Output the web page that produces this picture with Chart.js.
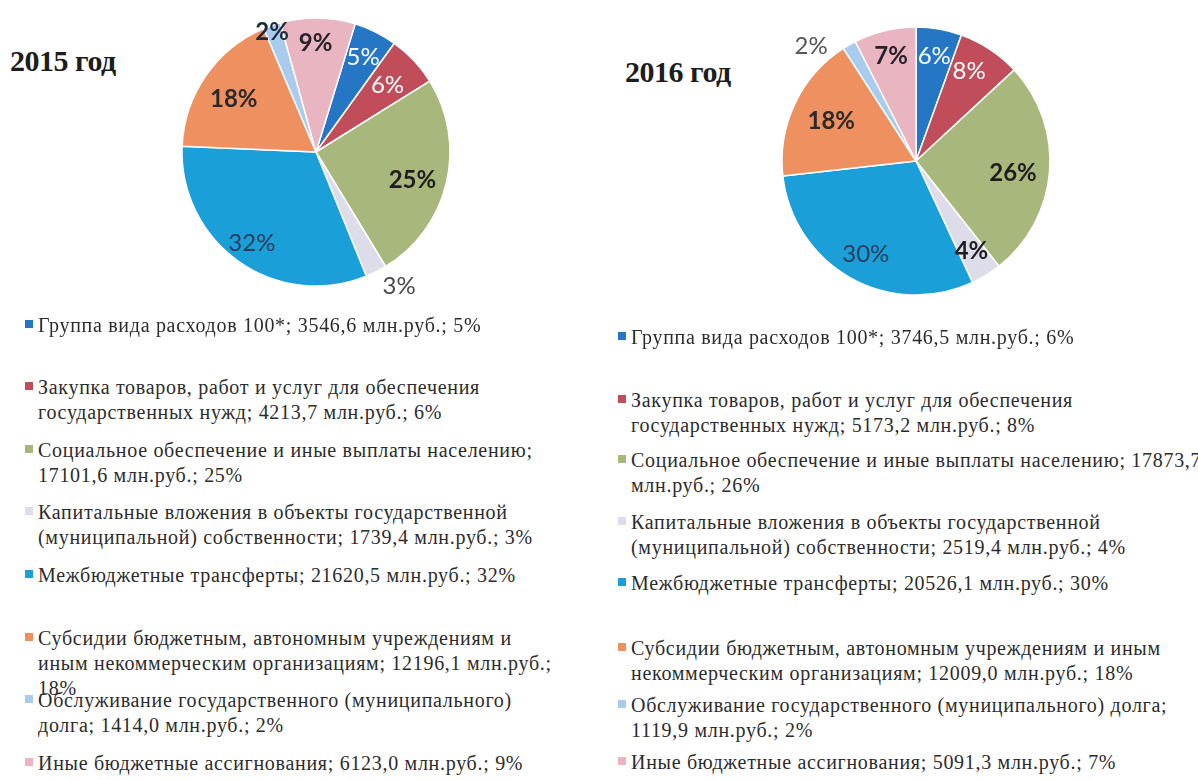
<!DOCTYPE html>
<html>
<head>
<meta charset="utf-8">
<script src="https://cdn.jsdelivr.net/npm/chart.js@4"></script>
<style>
  html, body { margin:0; padding:0; background:#fff; width:1198px; height:780px; overflow:hidden; }
  body { position:relative; font-family:"Liberation Serif","DejaVu Serif",serif; }
  .title { position:absolute; font-family:"Liberation Serif",serif; font-weight:bold; font-size:30px; line-height:30px; color:#1d1d1d; white-space:nowrap; letter-spacing:-0.5px; }
  .pie { position:absolute; width:340px; height:340px; }
  .item { position:absolute; font-family:"Liberation Serif","Times New Roman",serif; font-size:20px; line-height:25px; letter-spacing:0.7px; color:#2c2c2c; }
  .item .line { white-space:nowrap; height:25px; }
  .sq { position:absolute; width:8px; height:8px; }
</style>
</head>
<body>
<div class="title" style="left:10px;top:46px;">2015 год</div>
<div class="title" style="left:625px;top:57px;">2016 год</div>
<div class="pie" style="left:146px;top:-18px;"><canvas id="c2015" width="340" height="340"></canvas></div>
<div class="pie" style="left:746px;top:-9px;"><canvas id="c2016" width="340" height="340"></canvas></div>
<div id="leg2015"></div>
<div id="leg2016"></div>
<script>
// ---- data ----
const categories = [
  "Группа вида расходов 100*",
  "Закупка товаров, работ и услуг для обеспечения государственных нужд",
  "Социальное обеспечение и иные выплаты населению",
  "Капитальные вложения в объекты государственной (муниципальной) собственности",
  "Межбюджетные трансферты",
  "Субсидии бюджетным, автономным учреждениям и иным некоммерческим организациям",
  "Обслуживание государственного (муниципального) долга",
  "Иные бюджетные ассигнования"
];
const values2015 = [3546.6, 4213.7, 17101.6, 1739.4, 21620.5, 12196.1, 1414.0, 6123.0];
const values2016 = [3746.5, 5173.2, 17873.7, 2519.4, 20526.1, 12009.0, 1119.9, 5091.3];
const pct2015 = [5, 6, 25, 3, 32, 18, 2, 9];
const pct2016 = [6, 8, 26, 4, 30, 18, 2, 7];
const unit = "млн.руб.";

// ---- style ----
const colors = ['#2577c6', '#c24d5a', '#a8b87c', '#dcdde8', '#1b9fd8', '#ee9060', '#a9cbee', '#e9b5c0'];

const style2015 = {
  rotation: 17,
  labelRadius: [0.79, 0.73, 0.75, 1.18, 0.83, 0.73, 0.95, 0.81],
  labelShift:  [0, 0, 3, -5, 0, -2, -1, -1],
  labelColor:  ['#ffffff', '#ffffff', '#1e1e1e', '#4a4a4a', '#2a3d5c', '#2a2a2a', '#1f2a3a', '#2a2228'],
  labelWeight: ['400', '400', '700', '400', '400', '700', '700', '700'],
  legendY:     [325, 387, 450, 512, 575, 638, 700, 763],
  legendBreaks:[[], [7], [6], [5], [], [5, 10], [3], []],
  legendX: 25
};
const style2016 = {
  rotation: 0,
  labelRadius: [0.79, 0.78, 0.73, 0.79, 0.79, 0.70, 1.16, 0.80],
  labelShift:  [0, -3, 3, 0, -1, 0, -12.5, 0],
  labelColor:  ['#ffffff', '#ffffff', '#1e1e1e', '#1e1e1e', '#2a3d5c', '#2a2a2a', '#555555', '#2a2228'],
  labelWeight: ['400', '400', '700', '700', '400', '700', '400', '700'],
  legendY:     [337, 400, 460, 522, 583, 648, 705, 762],
  legendBreaks:[[], [7], [7], [5], [], [6], [4], []],
  legendX: 618
};

const pctLabels = {
  id: 'pctLabels',
  afterDatasetsDraw(chart, args, o) {
    const ctx = chart.ctx;
    const meta = chart.getDatasetMeta(0);
    meta.data.forEach((arc, i) => {
      const p = arc.getProps(['x', 'y', 'startAngle', 'endAngle', 'outerRadius'], true);
      const mid = (p.startAngle + p.endAngle) / 2 + o.shift[i] * Math.PI / 180;
      const r = p.outerRadius * o.radius[i];
      ctx.save();
      ctx.font = o.weight[i] + ' 24px Lato, "Open Sans", sans-serif';
      ctx.fillStyle = o.color[i];
      ctx.textAlign = 'center';
      ctx.textBaseline = 'middle';
      ctx.fillText(o.labels[i] + '%', p.x + Math.cos(mid) * r, p.y + Math.sin(mid) * r);
      ctx.restore();
    });
  }
};

function makePie(id, values, pct, st) {
  new Chart(document.getElementById(id), {
    type: 'pie',
    data: { labels: categories, datasets: [{ data: values, backgroundColor: colors, borderColor: '#ffffff', borderWidth: 1.5 }] },
    options: {
      responsive: false, animation: false, events: [],
      rotation: st.rotation, radius: 134,
      layout: { padding: 0 },
      plugins: {
        legend: { display: false }, tooltip: { enabled: false },
        pctLabels: { labels: pct, radius: st.labelRadius, shift: st.labelShift, color: st.labelColor, weight: st.labelWeight }
      }
    },
    plugins: [pctLabels]
  });
}

function fmt(v) { return v.toFixed(1).replace('.', ','); }

function makeLegend(id, values, pct, st) {
  const host = document.getElementById(id);
  categories.forEach((name, i) => {
    const words = (name + '; ' + fmt(values[i]) + ' ' + unit + '; ' + pct[i] + '%').split(' ');
    const cuts = [0].concat(st.legendBreaks[i]).concat([words.length]);
    const item = document.createElement('div');
    item.className = 'item';
    item.style.left = (st.legendX + 13) + 'px';
    item.style.top = (st.legendY[i] - 12.5) + 'px';
    for (let k = 0; k < cuts.length - 1; k++) {
      const ln = document.createElement('div');
      ln.className = 'line';
      ln.textContent = words.slice(cuts[k], cuts[k + 1]).join(' ');
      item.appendChild(ln);
    }
    host.appendChild(item);
    const sq = document.createElement('div');
    sq.className = 'sq';
    sq.style.background = colors[i];
    sq.style.left = st.legendX + 'px';
    sq.style.top = (st.legendY[i] - 5) + 'px';
    host.appendChild(sq);
  });
}

makePie('c2015', values2015, pct2015, style2015);
makePie('c2016', values2016, pct2016, style2016);
makeLegend('leg2015', values2015, pct2015, style2015);
makeLegend('leg2016', values2016, pct2016, style2016);
</script>
</body>
</html>
